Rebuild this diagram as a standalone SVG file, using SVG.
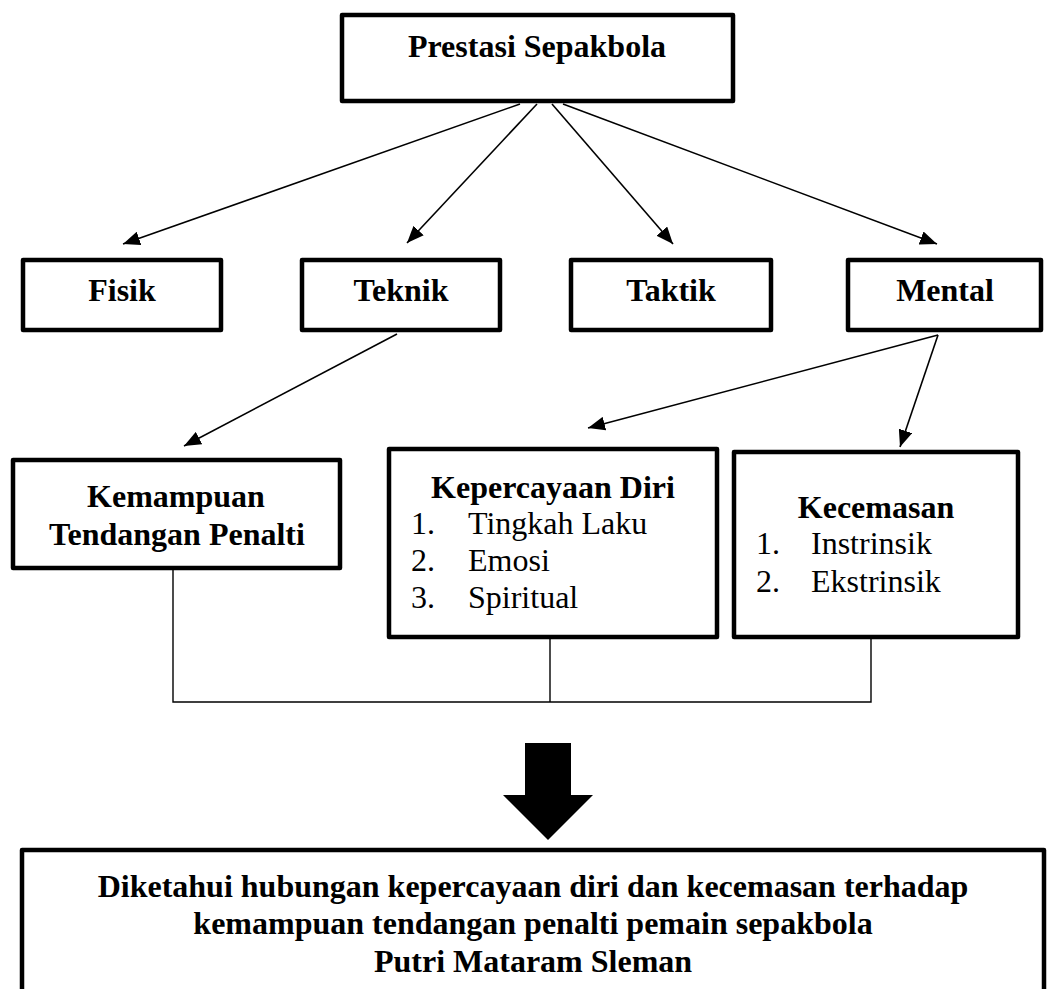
<svg xmlns="http://www.w3.org/2000/svg" width="1047" height="989" viewBox="0 0 1047 989">
<defs>
<style>
.box{fill:#fff;stroke:#000;stroke-width:4.5;stroke-linejoin:round}
.b{font-family:"Liberation Serif","Times New Roman",serif;font-weight:bold;font-size:32px;fill:#000;text-anchor:middle}
.r{font-family:"Liberation Serif","Times New Roman",serif;font-size:32px;fill:#000}
.conn{stroke:#000;stroke-width:1.6;fill:none}
.thin{stroke:#000;stroke-width:1.4;fill:none}
</style>
<marker id="ah" markerUnits="userSpaceOnUse" markerWidth="18" markerHeight="14" refX="17" refY="7" orient="auto">
<path d="M0,0 L17,7 L0,14 Z" fill="#000"/>
</marker>
</defs>
<rect width="1047" height="989" fill="#fff"/>
<g id="connectors">
<line class="conn" x1="520" y1="104" x2="123" y2="244" marker-end="url(#ah)"/>
<line class="conn" x1="537" y1="104" x2="407" y2="243" marker-end="url(#ah)"/>
<line class="conn" x1="552" y1="104" x2="673" y2="244" marker-end="url(#ah)"/>
<line class="conn" x1="563" y1="104" x2="937" y2="244" marker-end="url(#ah)"/>
<line class="conn" x1="397" y1="334" x2="184" y2="446" marker-end="url(#ah)"/>
<line class="conn" x1="938" y1="335" x2="588" y2="428" marker-end="url(#ah)"/>
<line class="conn" x1="938" y1="335" x2="900" y2="447" marker-end="url(#ah)"/>
<polyline class="thin" points="173,570 173,702 871,702 871,639"/>
<line class="thin" x1="550" y1="639" x2="550" y2="702"/>
<polygon points="525,743 571,743 571,795 593,795 548,840 503,795 525,795" fill="#000"/>
</g>
<g id="prestasi">
<rect class="box" x="342" y="15" width="391" height="86"/>
<text class="b" x="537" y="57">Prestasi Sepakbola</text>
</g>
<g id="fisik">
<rect class="box" x="23" y="260" width="198" height="70"/>
<text class="b" x="122" y="301">Fisik</text>
</g>
<g id="teknik">
<rect class="box" x="302" y="260" width="198" height="70"/>
<text class="b" x="401" y="301">Teknik</text>
</g>
<g id="taktik">
<rect class="box" x="571" y="260" width="200" height="70"/>
<text class="b" x="671" y="301">Taktik</text>
</g>
<g id="mental">
<rect class="box" x="848" y="260" width="193" height="70"/>
<text class="b" x="945" y="301">Mental</text>
</g>
<g id="kemampuan">
<rect class="box" x="13" y="460" width="327" height="108"/>
<text class="b" x="176" y="507">Kemampuan</text>
<text class="b" x="177" y="545">Tendangan Penalti</text>
</g>
<g id="kepercayaan">
<rect class="box" x="389" y="449" width="328" height="188"/>
<text class="b" x="553" y="498">Kepercayaan Diri</text>
<text class="r" x="411" y="534">1.</text><text class="r" x="468" y="534">Tingkah Laku</text>
<text class="r" x="411" y="571">2.</text><text class="r" x="468" y="571">Emosi</text>
<text class="r" x="411" y="608">3.</text><text class="r" x="468" y="608">Spiritual</text>
</g>
<g id="kecemasan">
<rect class="box" x="734" y="452" width="284" height="185"/>
<text class="b" x="876" y="518">Kecemasan</text>
<text class="r" x="756" y="554">1.</text><text class="r" x="811" y="554">Instrinsik</text>
<text class="r" x="756" y="592">2.</text><text class="r" x="811" y="592">Ekstrinsik</text>
</g>
<g id="kesimpulan">
<rect class="box" x="22" y="850" width="1022" height="160"/>
<text class="b" x="533" y="897">Diketahui hubungan kepercayaan diri dan kecemasan terhadap</text>
<text class="b" x="533" y="934">kemampuan tendangan penalti pemain sepakbola</text>
<text class="b" x="533" y="972">Putri Mataram Sleman</text>
</g>
</svg>
